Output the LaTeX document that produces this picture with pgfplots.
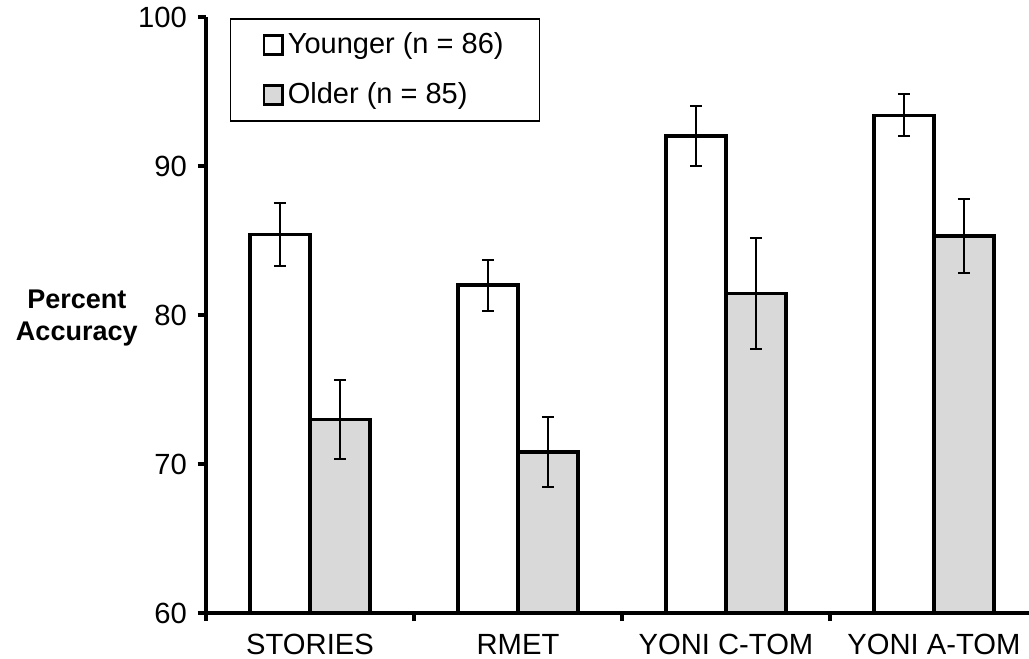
\documentclass[border=0pt]{standalone}
\usepackage{fontspec}
\setmainfont{Liberation Sans}
\usepackage{pgfplots}
\pgfplotsset{compat=1.18}
\definecolor{bargray}{RGB}{217,217,217}
\pgfplotsset{
  sqlegend/.style={legend image code/.code={\draw[##1,line width=1.4pt] (0pt,-4.6pt) rectangle (9.2pt,4.6pt);}}
}
\begin{document}
\begin{tikzpicture}
\begin{axis}[
  name=ax,
  scale only axis,
  width=411.5pt, height=298pt,
  xmin=-0.5, xmax=3.457,
  ymin=60, ymax=100,
  axis lines=left,
  axis line style={-, line width=1.6pt},
  ytick={60,70,80,90,100},
  xtick pos=left, ytick pos=left,
  xtick align=outside, ytick align=outside,
  major tick length=4pt,
  tick style={black, line width=1.6pt},
  xtick={-0.5,0.5,1.5,2.5},
  xticklabels={STORIES,RMET,YONI C-TOM,YONI A-TOM},
  xticklabel style={xshift=52pt, yshift=-3pt},
  ticklabel style={font=\fontsize{14.6}{16}\selectfont},
  /pgf/number format/assume math mode=true,
  yticklabel style={xshift=-2pt},
  ylabel={Percent\\Accuracy},
  ylabel style={rotate=-90, align=center, font=\bfseries\fontsize{13.5}{16}\selectfont, at={(rel axis cs:-0.157,0.495)}, anchor=center},
  ybar, bar width=30pt,
  legend style={at={(rel axis cs:0.029,0.998)}, anchor=north west, draw=black, line width=0.75pt,
    font=\fontsize{14.5}{17}\selectfont, inner xsep=16pt, inner ysep=5pt,
    row sep=9pt, cells={anchor=west}},
  legend cell align=left,
  clip=false,
]
\addplot[sqlegend, bar shift=-15pt, draw=black, line width=1.8pt, fill=white,
  error bars/.cd, y dir=both, y explicit,
  error bar style={line width=1pt, black},
  error mark options={rotate=90, mark size=3pt, line width=1pt, black}]
  coordinates {(0,85.4) +- (0,2.1) (1,82.0) +- (0,1.7) (2,92.0) +- (0,2.0) (3,93.4) +- (0,1.4)};
\addlegendentry{Younger (n = 86)}
\addplot[sqlegend, bar shift=15pt, draw=black, line width=1.8pt, fill=bargray,
  error bars/.cd, y dir=both, y explicit,
  error bar style={line width=1pt, black},
  error mark options={rotate=90, mark size=3pt, line width=1pt, black}]
  coordinates {(0,73.0) +- (0,2.65) (1,70.8) +- (0,2.35) (2,81.45) +- (0,3.75) (3,85.3) +- (0,2.5)};
\addlegendentry{Older (n = 85)}
\end{axis}
% overlay axis in box mode that only draws the y tick marks
\begin{axis}[
  at={(ax.south west)}, anchor=south west,
  scale only axis,
  width=411.5pt, height=298pt,
  xmin=-0.5, xmax=3.457,
  ymin=60, ymax=100,
  axis line style={draw=none},
  xtick=\empty,
  ytick={60,70,80,90,100},
  yticklabels={},
  ytick pos=left,
  tick align=outside,
  major tick length=4pt,
  ytick style={draw=black, line width=1.6pt},
]
\end{axis}
\pgfresetboundingbox
\path (ax.south west) ++(-103pt,-23pt) coordinate (bl);
\path (ax.north east) ++(0pt,8.5pt) coordinate (tr);
\path[use as bounding box] (bl) rectangle (tr);
\end{tikzpicture}
\end{document}
